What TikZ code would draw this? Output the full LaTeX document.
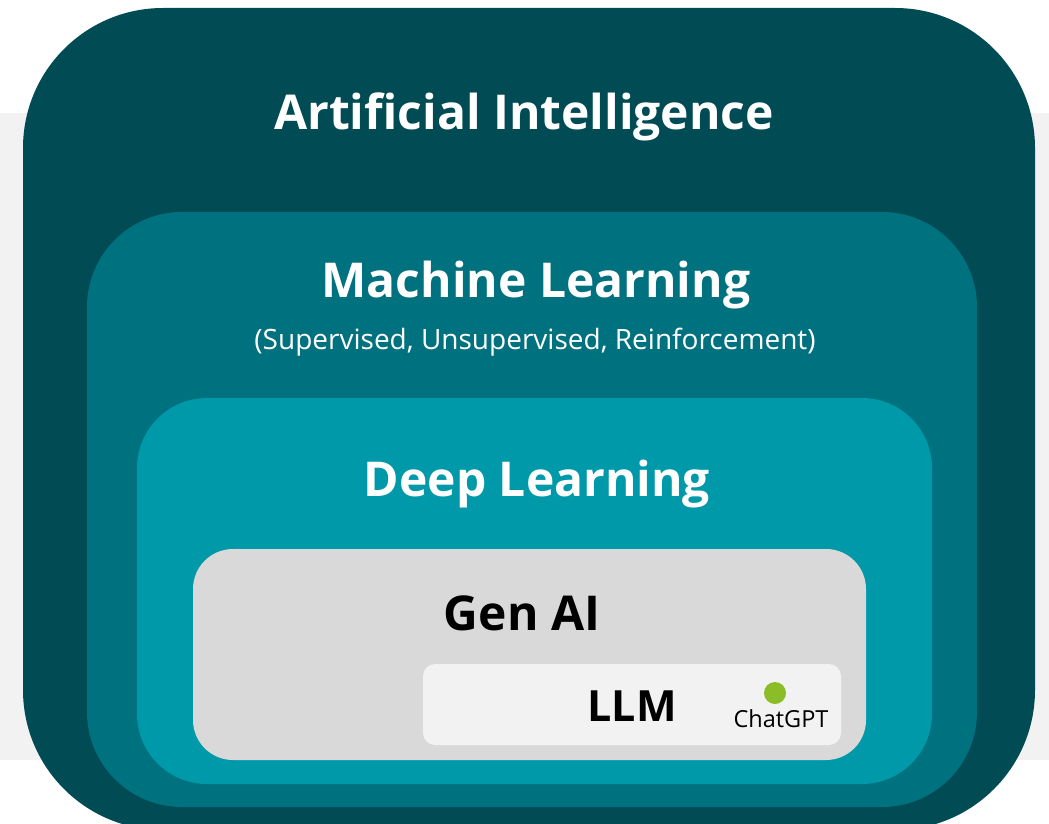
\documentclass[tikz,border=0pt]{standalone}
\usepackage{fontspec}
\setmainfont{Open Sans}
\definecolor{aiteal}{HTML}{014B55}
\definecolor{mlteal}{HTML}{00717E}
\definecolor{dlteal}{HTML}{0099AA}
\definecolor{genaigray}{HTML}{D9D9D9}
\definecolor{llmgray}{HTML}{F2F2F2}
\definecolor{gptgreen}{HTML}{8BBD28}
\tikzset{
	layerbox/.style={fill=#1, draw=none},
	layertitle/.style={font=\fontsize{48}{56}\selectfont\bfseries, text=white, inner sep=0pt, anchor=base},
	smalltext/.style={font=\fontsize{28}{32}\selectfont, text=#1, inner sep=0pt, anchor=base},
}

\begin{document}
\begin{tikzpicture}[x=1pt, y=-1pt]
		%%%%% START %%%%%
		\useasboundingbox (0, 0) rectangle (1049, 824);
		\clip (0, 0) rectangle (1049, 824);
		
		\fill[llmgray] (0, 113) rectangle (1049, 760);
		
		\fill[layerbox=aiteal, rounded corners=140pt] (23, 8) rectangle (1035, 830);
		\fill[layerbox=mlteal, rounded corners=95pt] (87, 212) rectangle (977, 807);
		\fill[layerbox=dlteal, rounded corners=70pt] (137, 398) rectangle (932, 784);
		\fill[layerbox=genaigray, rounded corners=40pt] (193, 549) rectangle (866, 760);
		\fill[layerbox=llmgray, rounded corners=12pt] (423, 664) rectangle (841, 745);
		
		\node[layertitle] (ai) at (524, 129) {Artificial Intelligence};
		\node[layertitle] (ml) at (536, 297) {Machine Learning};
		\node[smalltext=white] (mltypes) at (535, 349) {(Supervised, Unsupervised, Reinforcement)};
		\node[layertitle] (dl) at (537, 496) {Deep Learning};
		\node[layertitle, text=black] (genai) at (522, 630) {Gen AI};
		\node[layertitle, text=black, font=\fontsize{43}{50}\selectfont\bfseries] (llm) at (632, 721) {LLM};
		
		\fill[gptgreen] (775, 693) circle (11);
		\node[smalltext=black, font=\fontsize{23.5}{28}\selectfont] (chatgpt) at (781, 727) {ChatGPT};
		%%%%% END %%%%%
	\end{tikzpicture}
\end{document}
